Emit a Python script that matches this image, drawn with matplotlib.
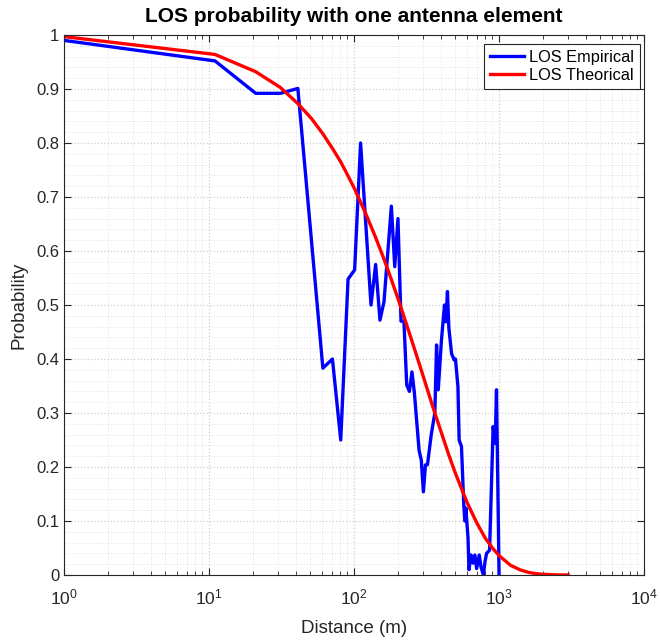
import matplotlib.pyplot as plt
import numpy as np

plt.rcParams['font.family'] = ['Liberation Sans', 'DejaVu Sans']

# Empirical LOS probability
emp_dist = [1, 11, 21, 31, 41, 61, 71, 81, 91, 101, 111, 131, 141, 151, 161,
            181, 191, 201, 211, 221, 231, 241, 251, 261, 281, 291, 301, 311,
            321, 341, 361, 371, 381, 401, 421, 431, 441, 451, 471, 491, 501,
            521, 531, 551, 571, 581, 591, 601, 611, 621, 641, 661, 681, 701,
            731, 751, 781, 801, 821, 861, 911, 941, 961, 1001]
emp_prob = [0.99, 0.952, 0.892, 0.892, 0.901, 0.383, 0.40, 0.25, 0.548, 0.565,
            0.80, 0.50, 0.575, 0.472, 0.506, 0.683, 0.571, 0.66, 0.47, 0.47,
            0.352, 0.34, 0.376, 0.337, 0.231, 0.213, 0.154, 0.204, 0.204, 0.26,
            0.30, 0.426, 0.343, 0.435, 0.50, 0.469, 0.525, 0.457, 0.41, 0.398,
            0.40, 0.349, 0.25, 0.238, 0.133, 0.10, 0.124, 0.096, 0.07, 0.01,
            0.037, 0.022, 0.037, 0.012, 0.037, 0.015, 0.0, 0.025, 0.04, 0.046,
            0.275, 0.244, 0.343, 0.0]

# Theoretical LOS probability
th_dist = [1, 11, 21, 31, 41, 51, 61, 71, 81, 91, 101, 121, 141, 161, 181,
           201, 231, 261, 301, 351, 401, 451, 501, 601, 701, 801, 901, 1001,
           1201, 1401, 1601, 1801, 2001, 2501, 3001]
th_prob = [0.997, 0.964, 0.932, 0.903, 0.873, 0.845, 0.817, 0.79, 0.765, 0.739,
           0.715, 0.668, 0.625, 0.585, 0.547, 0.512, 0.463, 0.419, 0.367, 0.31,
           0.263, 0.222, 0.188, 0.135, 0.097, 0.069, 0.05, 0.036, 0.018,
           0.0094, 0.0048, 0.0025, 0.0013, 0.0002, 0.0]

fig = plt.figure(figsize=(6.6, 6.41), dpi=100)
ax = fig.add_axes([64/660, 1-575/641, 580/660, 540/641])

ax.plot(emp_dist, emp_prob, color=(0, 0, 1), lw=2.4, label='LOS Empirical')
ax.plot(th_dist, th_prob, color=(1, 0, 0), lw=2.4, label='LOS Theorical')

ax.set_xscale('log')
ax.set_xlim(1, 1e4)
ax.set_ylim(0, 1)
ax.set_yticks(np.arange(0, 1.01, 0.1))
ax.set_yticklabels(['0', '0.1', '0.2', '0.3', '0.4', '0.5', '0.6', '0.7',
                    '0.8', '0.9', '1'])
ax.yaxis.set_minor_locator(plt.MultipleLocator(0.02))

ax.grid(which='major', color='#cfcfcf', linestyle=':', lw=0.9)
ax.grid(which='minor', color='#e2e2e2', linestyle=':', lw=0.7)
ax.set_axisbelow(True)

for s in ax.spines.values():
    s.set_color('#262626')
    s.set_linewidth(0.8)
ax.tick_params(which='both', direction='in', top=True, right=True,
               color='#262626', labelcolor='#262626', labelsize=12)
ax.tick_params(which='major', length=5)
ax.tick_params(which='minor', length=3)
ax.tick_params(axis='y', which='minor', left=False, right=False)
ax.tick_params(axis='x', pad=9, labelsize=12.5)

ax.set_title('LOS probability with one antenna element', fontsize=15,
             fontweight='bold', pad=9)
ax.set_xlabel('Distance (m)', fontsize=13.5, color='#262626', labelpad=9)
ax.set_ylabel('Probability', fontsize=13.5, color='#262626', labelpad=6)

leg = ax.legend(loc='upper right', bbox_to_anchor=(0.993, 0.983),
                borderaxespad=0, fontsize=11.8, fancybox=False,
                framealpha=1, edgecolor='#262626', handlelength=2.1,
                handletextpad=0.3, borderpad=0.35, labelspacing=0.2)
leg.get_frame().set_linewidth(0.8)

fig.savefig('out.png', dpi=100, facecolor='white')
